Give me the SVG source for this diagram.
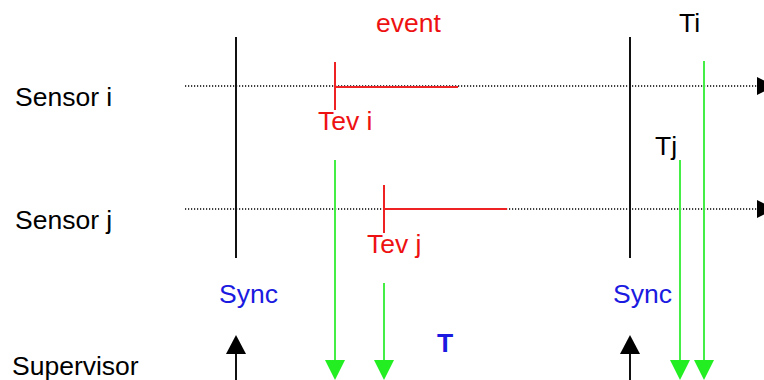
<svg xmlns="http://www.w3.org/2000/svg" width="764" height="380" viewBox="0 0 764 380">
<style>
text{font-family:"Liberation Sans",Arial,sans-serif;font-size:26.5px}
.lbl{fill:#000}
.red{fill:#ee1111}
.blue{fill:#1a1ae0}
.dot{stroke:#000;stroke-width:1.3;stroke-dasharray:1.2 1.8;fill:none}
.sync{stroke:#111;stroke-width:2;fill:none}
.ev{stroke:#ee2222;stroke-width:2;fill:none}
.g{stroke:#44ee44;stroke-width:2;fill:none}
.gh{fill:#22ee22}
.bh{fill:#000}
</style>
<rect width="764" height="380" fill="#fff"/>
<g id="sensor-i"><text class="lbl" x="15" y="106">Sensor i</text></g>
<g id="sensor-j"><text class="lbl" x="15" y="229">Sensor j</text></g>
<g id="supervisor"><text class="lbl" x="12" y="375">Supervisor</text></g>
<g id="labels">
<text class="red" x="376" y="32">event</text>
<text class="red" x="318" y="130">Tev i</text>
<text class="red" x="367" y="253">Tev j</text>
<text class="lbl" x="679" y="32">Ti</text>
<text class="lbl" x="655" y="155">Tj</text>
<text class="blue" x="219" y="303">Sync</text>
<text class="blue" x="613" y="303">Sync</text>
<text class="blue" x="437" y="352" font-weight="bold">T</text>
</g>
<g id="connectors">
<line class="dot" x1="185" y1="86" x2="757" y2="86"/>
<polygon class="bh" points="757,77 775,86 757,95"/>
<line class="dot" x1="185" y1="209" x2="757" y2="209"/>
<polygon class="bh" points="757,200 775,209 757,218"/>
<line class="sync" x1="236" y1="37" x2="236" y2="258"/>
<line class="sync" x1="630" y1="37" x2="630" y2="258"/>
<path class="ev" d="M335,62 V110 M335,87 H458"/>
<path class="ev" d="M384,185 V233 M384,209 H507"/>
<line class="g" x1="335" y1="160" x2="335" y2="362"/>
<polygon class="gh" points="325,360 345,360 335,380"/>
<line class="g" x1="384" y1="283" x2="384" y2="362"/>
<polygon class="gh" points="374,360 394,360 384,380"/>
<line class="g" x1="680" y1="160" x2="680" y2="362"/>
<polygon class="gh" points="670,360 690,360 680,380"/>
<line class="g" x1="704" y1="61" x2="704" y2="362"/>
<polygon class="gh" points="694,360 714,360 704,380"/>
<line class="sync" x1="236" y1="352" x2="236" y2="380"/>
<polygon class="bh" points="226,354 246,354 236,335"/>
<line class="sync" x1="630" y1="352" x2="630" y2="380"/>
<polygon class="bh" points="620,354 640,354 630,335"/>
</g>
</svg>
